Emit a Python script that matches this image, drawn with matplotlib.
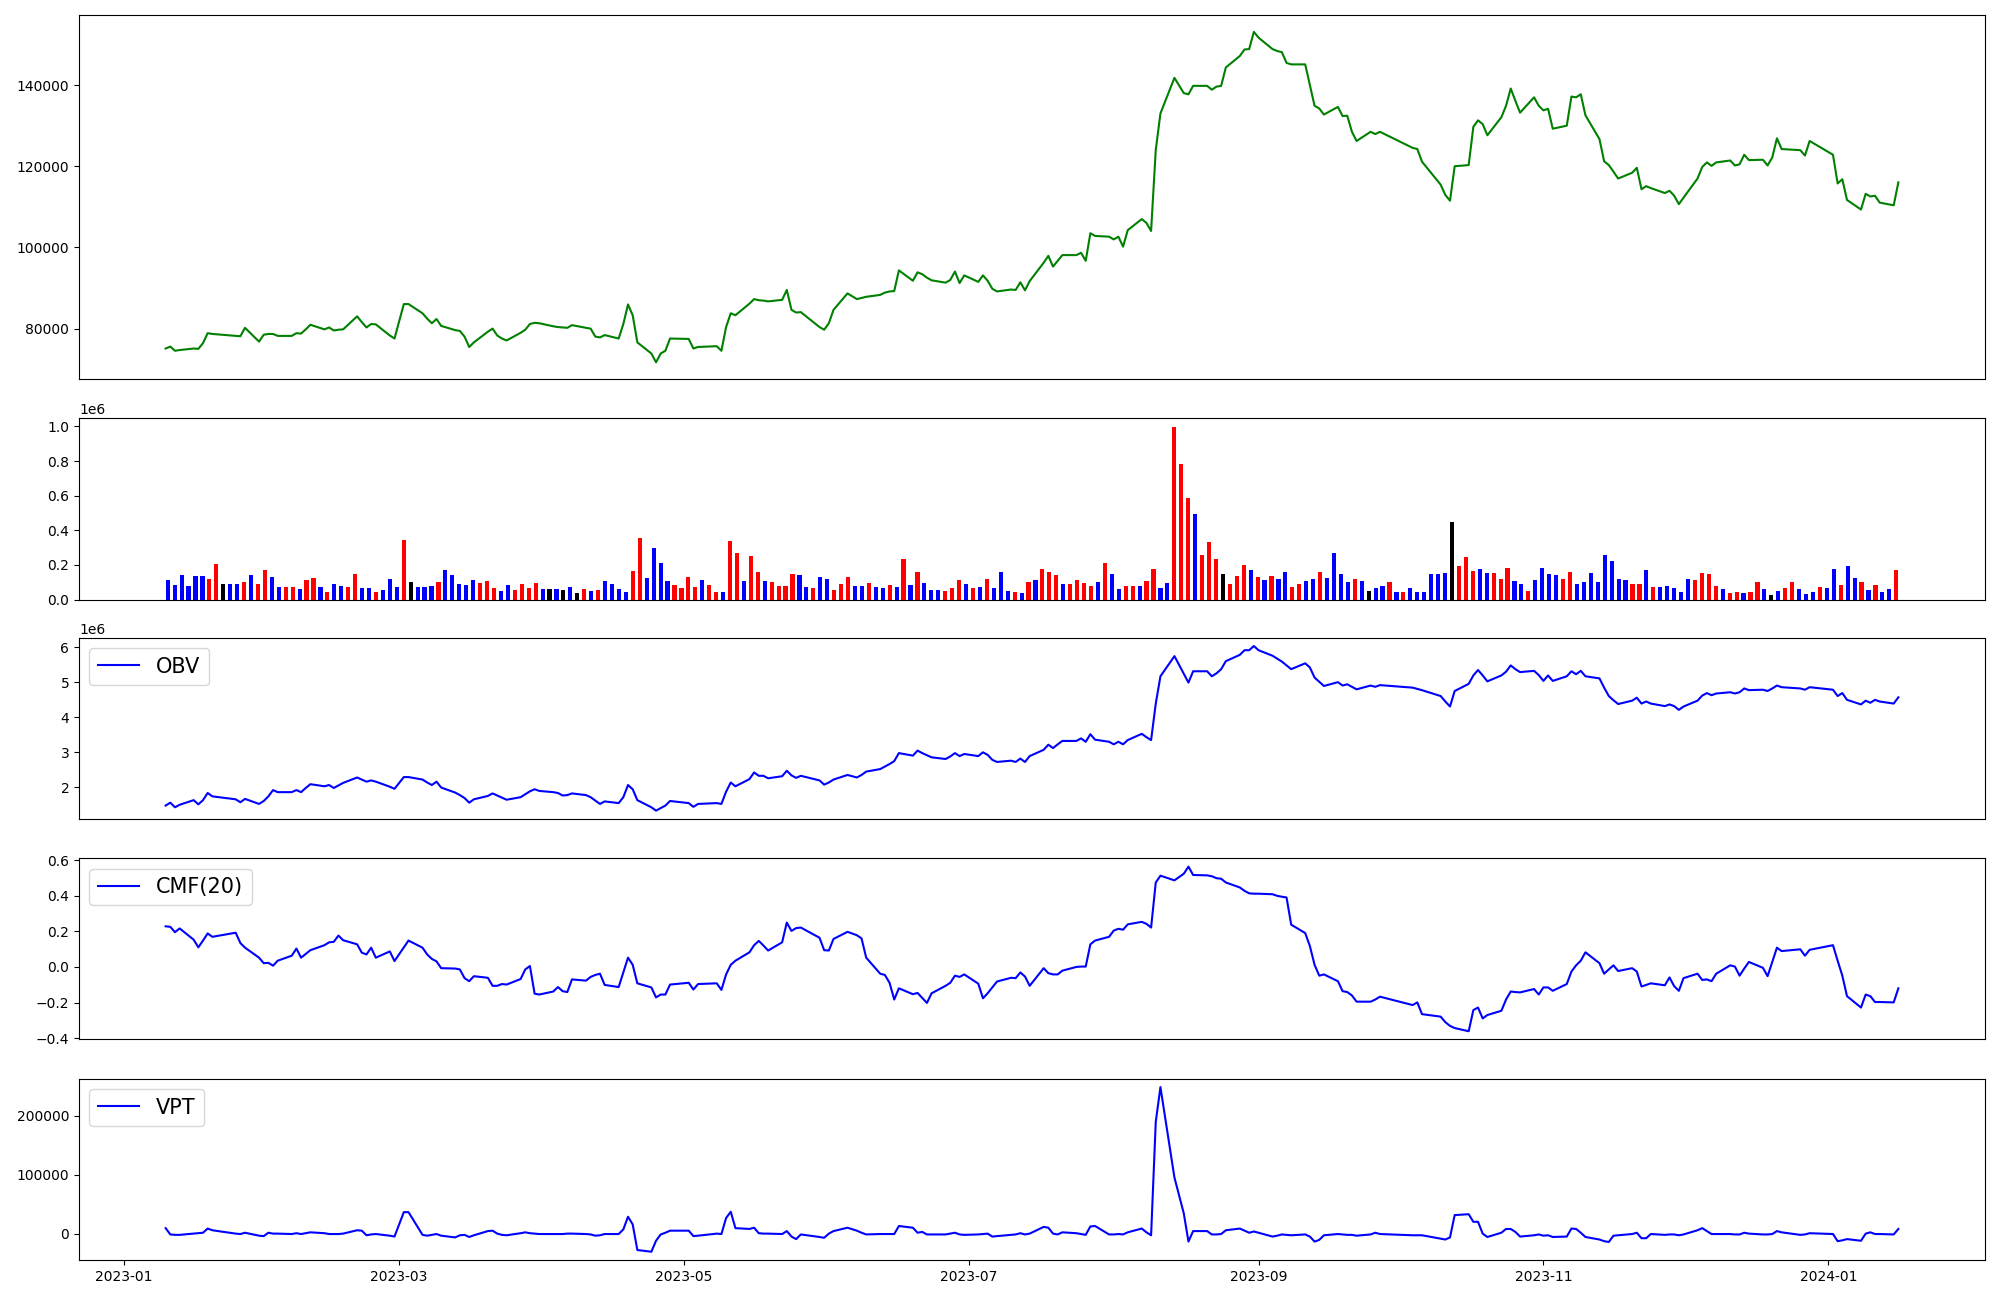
import pandas as pd
import matplotlib
matplotlib.use('Agg')
import matplotlib.pyplot as plt
from matplotlib.ticker import MultipleLocator

# KRX trading calendar for the period shown
krx_holidays = ['2023-01-23', '2023-01-24', '2023-03-01', '2023-05-01', '2023-05-05',
                '2023-05-29', '2023-06-06', '2023-08-15', '2023-09-28', '2023-09-29',
                '2023-10-02', '2023-10-03', '2023-10-09', '2023-12-25', '2023-12-29',
                '2024-01-01']
dates = pd.bdate_range('2023-01-10', '2024-01-16', freq='C', holidays=krx_holidays)

close = [
    75090, 75560, 74530, 74710, 75090, 75000, 76410, 78870, 78680, 78200, 78110, 80190, 76790, 78490,
    78680, 78680, 78200, 78200, 78870, 78770, 79810, 80940, 79810, 80280, 79530, 79720, 79810, 83020,
    81600, 80280, 81130, 81040, 78300, 77550,
    86040, 86040, 83780, 82450, 81320, 82360, 80660, 79620, 79430, 78020, 75470, 76600, 79240, 80000,
    78300, 77550, 77070, 78960, 79720, 81130, 81420, 81320,
    80570, 80380, 80280, 80190, 80850, 80190, 80000, 78020, 77830, 78400, 77550, 81130, 85950, 83300,
    76600, 73860, 71690, 73860, 74530, 77550,
    77450, 75090, 75470, 75660, 74530, 80380, 83780, 83300, 86140, 87270, 86990, 86900, 86710, 87080,
    89530, 84620, 83960, 84060, 80380, 79720,
    81320, 84620, 88680, 87270, 87550, 87840, 88310, 88870, 89160, 89250, 94350, 91800, 93880, 93400,
    92560, 91900, 91330, 91990, 94070, 91230, 93120,
    91520, 93120, 91800, 89820, 89160, 89630, 89530, 91420, 89440, 91710, 96240, 97940, 95290, 96710,
    98120, 98120, 98690, 96710, 103510, 102850, 102660,
    101990, 102660, 100200, 104260, 107000, 106050, 104070, 124080, 133050, 141830, 138050, 137770,
    139850, 139850, 138900, 139660, 139850, 144380, 147210, 148820, 148910, 153160,
    151740, 148910, 148440, 148160, 145510, 145140, 145140, 140040, 134940, 134280, 132770, 134660,
    132390, 132490, 128520, 126260, 128520, 127960, 128520,
    124560, 124270, 121160, 115490, 112950, 111530, 120030, 120310, 129750, 131350, 130410, 127670,
    132110, 134940, 139190, 136170, 133240, 137020, 134940,
    133810, 134190, 129280, 130030, 137210, 137020, 137770, 132580, 126730, 121250, 120310, 118700,
    117000, 118420, 119650, 114360, 115120, 114640, 113420, 113980, 112760, 110680,
    112280, 117000, 119840, 120970, 120120, 120970, 121440, 120210, 120500, 122860, 121540, 121630,
    120210, 122200, 126920, 124270, 123990, 122670, 126260,
    122860, 115780, 116820, 111720, 109360, 113230, 112570, 112760, 111060, 110400, 116060,
]

volume = [
    110650, 81900, 139400, 77500, 135000, 135000, 117300, 203600, 88500, 88500, 88500, 99600, 139400, 88500,
    170400, 128400, 70800, 70800, 70800, 59800, 110650, 123900, 70800, 42000, 88500, 77500, 70800, 146100,
    64200, 64200, 42000, 53100, 117300, 70800,
    343000, 99600, 70800, 70800, 77500, 99600, 170400, 139400, 88500, 81900, 110650, 95200, 106200, 64200,
    48700, 81900, 53100, 88500, 64200, 95200, 59800, 59800,
    59800, 53100, 70800, 35400, 59800, 48700, 53100, 106200, 88500, 59800, 42000, 163800, 354100, 123900,
    296500, 210200, 106200, 81900, 64200, 128400,
    70800, 110650, 81900, 42000, 42000, 336400, 267800, 106200, 250100, 157100, 106200, 99600, 77500, 77500,
    146100, 139400, 70800, 64200, 128400, 117300,
    53100, 88500, 128400, 77500, 77500, 95200, 70800, 64200, 81900, 70800, 232400, 81900, 157100, 95200,
    53100, 53100, 48700, 64200, 110650, 88500, 64200,
    70800, 117300, 64200, 157100, 48700, 42000, 35400, 99600, 110650, 174800, 157100, 139400, 88500, 88500,
    110650, 95200, 77500, 99600, 210200, 146100, 59800,
    77500, 77500, 77500, 106200, 174800, 64200, 95200, 996000, 783400, 586400, 491300, 256700, 332000,
    232400, 146100, 88500, 135000, 199200, 170400, 128400, 110650, 135000,
    117300, 157100, 70800, 88500, 106200, 117300, 157100, 123900, 267800, 146100, 99600, 117300, 106200,
    48700, 64200, 77500, 99600, 42000, 42000,
    64200, 42000, 42000, 146100, 146100, 152700, 447000, 192500, 245600, 163800, 174800, 152700, 152700,
    117300, 181500, 106200, 88500, 48700, 110650,
    181500, 146100, 139400, 117300, 157100, 88500, 99600, 152700, 99600, 256700, 221300, 117300, 110650,
    88500, 88500, 170400, 70800, 70800, 77500, 64200, 42000, 117300,
    110650, 152700, 146100, 77500, 59800, 35400, 42000, 35400, 42000, 99600, 59800, 24300, 48700, 64200,
    99600, 59800, 31000, 42000, 70800,
    64200, 174800, 81900, 192500, 123900, 99600, 53100, 81900, 42000, 59800, 170400,
]

# r = up day, b = down day, k = unchanged
bar_side = ('bbbbbbrrkbbrbr'
            'rbbrrbrrbrbbrrbbrbbb'
            'rkbbbrbbbbbrrrbbrrrrbk'
            'bkbkrbrbbbbrrbbbbrrr'
            'rbrrbrrbrrbrrrrbbrbb'
            'rrrbbrbbrbrbrbbbrrrbr'
            'brbbbrbrbrrrbrrrrbrbb'
            'rrbrrbbrrrbrrrkrrrbrbr'
            'bbrrbbrbbbbrbkbbrbr'
            'bbbbbbkrrrbbrrrbbrb'
            'bbbrrbbbbbbbbrrbrbbbbb'
            'rrrrbrrbrrbkbrrbbbr'
            'bbrbbrbrbbr')

obv = [
    1.482, 1.564, 1.433, 1.504, 1.636, 1.516, 1.636, 1.840, 1.744, 1.660, 1.576, 1.672, 1.528, 1.612,
    1.744, 1.923, 1.864, 1.864, 1.923, 1.864, 1.983, 2.091, 2.031, 2.067, 1.983, 2.055, 2.127, 2.282,
    2.223, 2.163, 2.199, 2.163, 2.019, 1.959,
    2.294, 2.294, 2.223, 2.139, 2.067, 2.163, 1.995, 1.852, 1.780, 1.696, 1.564, 1.660, 1.756, 1.828,
    1.768, 1.708, 1.648, 1.720, 1.804, 1.888, 1.947, 1.899,
    1.864, 1.840, 1.768, 1.780, 1.828, 1.780, 1.720, 1.624, 1.528, 1.600, 1.552, 1.720, 2.067, 1.947,
    1.636, 1.433, 1.337, 1.409, 1.481, 1.612,
    1.552, 1.445, 1.528, 1.552, 1.528, 1.876, 2.139, 2.031, 2.235, 2.426, 2.330, 2.330, 2.259, 2.318,
    2.474, 2.342, 2.271, 2.330, 2.199, 2.079,
    2.139, 2.223, 2.354, 2.282, 2.354, 2.450, 2.522, 2.594, 2.665, 2.749, 2.977, 2.905, 3.049, 2.977,
    2.917, 2.857, 2.809, 2.881, 2.977, 2.892, 2.952,
    2.892, 3.000, 2.928, 2.785, 2.725, 2.761, 2.725, 2.821, 2.725, 2.892, 3.071, 3.217, 3.120, 3.227,
    3.324, 3.324, 3.396, 3.300, 3.515, 3.360, 3.300,
    3.228, 3.300, 3.228, 3.348, 3.527, 3.431, 3.348, 4.389, 5.167, 5.742, 5.239, 4.987, 5.310, 5.310,
    5.167, 5.251, 5.370, 5.598, 5.778, 5.910, 5.910, 6.030,
    5.910, 5.753, 5.669, 5.586, 5.478, 5.370, 5.537, 5.418, 5.131, 5.011, 4.891, 4.999, 4.903, 4.939,
    4.867, 4.795, 4.903, 4.867, 4.915,
    4.843, 4.807, 4.771, 4.604, 4.448, 4.305, 4.747, 4.951, 5.191, 5.346, 5.191, 5.023, 5.191, 5.298,
    5.477, 5.370, 5.286, 5.322, 5.202,
    5.035, 5.191, 5.035, 5.167, 5.310, 5.226, 5.322, 5.167, 5.107, 4.844, 4.604, 4.484, 4.376, 4.472,
    4.556, 4.389, 4.448, 4.389, 4.317, 4.365, 4.317, 4.209,
    4.305, 4.472, 4.616, 4.688, 4.628, 4.676, 4.712, 4.676, 4.712, 4.820, 4.772, 4.784, 4.748, 4.820,
    4.903, 4.856, 4.820, 4.784, 4.856,
    4.784, 4.604, 4.688, 4.496, 4.365, 4.472, 4.412, 4.496, 4.448, 4.389, 4.568,
]  # millions

cmf = [
    0.228, 0.225, 0.195, 0.216, 0.153, 0.110, 0.148, 0.188, 0.169, 0.192, 0.134, 0.108, 0.052, 0.021,
    0.023, 0.007, 0.035, 0.063, 0.103, 0.052, 0.073, 0.094, 0.122, 0.138, 0.141, 0.176, 0.150, 0.127,
    0.080, 0.070, 0.108, 0.052, 0.087, 0.033,
    0.110, 0.148, 0.108, 0.070, 0.045, 0.031, -0.007, -0.009, -0.014, -0.063, -0.080, -0.052, -0.061,
    -0.106, -0.106, -0.096, -0.099, -0.068, -0.014, 0.005, -0.150, -0.155,
    -0.138, -0.113, -0.136, -0.141, -0.070, -0.077, -0.056, -0.045, -0.038, -0.101, -0.113, -0.031,
    0.052, 0.012, -0.092, -0.115, -0.171, -0.155, -0.155, -0.099,
    -0.089, -0.127, -0.096, -0.092, -0.129, -0.042, 0.012, 0.035, 0.082, 0.122, 0.146, 0.120, 0.092,
    0.138, 0.249, 0.202, 0.218, 0.221, 0.164, 0.094,
    0.092, 0.157, 0.197, 0.178, 0.160, 0.052, -0.038, -0.045, -0.089, -0.183, -0.120, -0.153, -0.146,
    -0.174, -0.202, -0.148, -0.106, -0.089, -0.049, -0.056, -0.042,
    -0.094, -0.176, -0.148, -0.115, -0.082, -0.061, -0.063, -0.031, -0.054, -0.106, -0.007, -0.035,
    -0.042, -0.042, -0.021, 0.000, 0.002, 0.002, 0.127, 0.148, 0.169,
    0.204, 0.214, 0.209, 0.239, 0.253, 0.242, 0.221, 0.474, 0.512, 0.486, 0.523, 0.563, 0.516, 0.514,
    0.509, 0.498, 0.495, 0.474, 0.446, 0.427, 0.413, 0.411,
    0.411, 0.408, 0.399, 0.394, 0.390, 0.237, 0.190, 0.117, 0.012, -0.049, -0.042, -0.080, -0.136,
    -0.141, -0.160, -0.195, -0.195, -0.183, -0.167,
    -0.214, -0.199, -0.265, -0.279, -0.310, -0.331, -0.343, -0.361, -0.242, -0.228, -0.289, -0.270,
    -0.246, -0.183, -0.138, -0.141, -0.143, -0.124, -0.155,
    -0.115, -0.115, -0.134, -0.096, -0.026, 0.009, 0.035, 0.082, 0.021, -0.038, -0.014, 0.009, -0.023,
    -0.007, -0.026, -0.110, -0.101, -0.092, -0.103, -0.059, -0.108, -0.134,
    -0.063, -0.038, -0.073, -0.070, -0.080, -0.038, 0.009, 0.002, -0.049, -0.009, 0.028, -0.005,
    -0.052, 0.028, 0.108, 0.089, 0.099, 0.063, 0.096,
    0.122, 0.035, -0.049, -0.164, -0.228, -0.155, -0.164, -0.197, -0.197, -0.199, -0.120,
]

vpt = [
    9700, -1000, -1700, -1700, 400, 1100, 1900, 9000, 6100, 400, -300, 1900, -3100, -3800,
    1900, 400, 400, -300, 1100, -300, 1100, 2600, 1100, -300, -300, -300, 400, 6100, 5400, -2400,
    -1000, -300, -3100, -4600,
    36800, 36800, -1700, -3100, -1700, -300, -3100, -6000, -2400, -1700, -5300, -2400, 4700, 5400,
    400, -1700, -2400, 1100, 2600, 1100, 400, -300,
    -300, -300, -300, 400, 400, -300, -1000, -3100, -2400, -300, -300, 7600, 29000, 16100, -27400,
    -30300, -11700, -1000, 1900, 5400,
    5400, -3800, -3100, 400, -300, 26800, 37500, 9700, 8300, 10400, 1100, 400, 400, -300, 4700,
    -4600, -8900, -1000, -5300, -6700,
    400, 4700, 10400, 5400, 1900, -1000, -300, -300, -300, -300, 13300, 10400, 1900, 3300, -1000,
    -1000, -1000, 400, 1900, -1000, -1700,
    -1000, -300, 400, -4600, -3800, -1700, -1000, 1100, -1000, 400, 11800, 10400, 400, -1000, 2600,
    1100, -300, -1700, 12600, 13300, -1000,
    -1000, -300, -1000, 2600, 9000, 2600, -2400, 190100, 248800, 95400, 34700, -13100, 4700, 4700,
    -1000, -1000, -300, 6100, 9000, 5400, 1900, 4000,
    1900, -4600, -3100, -1000, -1700, -2400, -1000, -4600, -13100, -10300, -2400, -300, -1000, -1700,
    -1700, -3100, -1000, 1900, -300,
    -2400, -2400, -2400, -8100, -9600, -6000, 31800, 33300, 20400, 20400, 400, -5300, 1900, 8300,
    8300, 3300, -4600, -2400, -1000,
    -3100, -2400, -5300, -4600, 9000, 8300, 1900, -5300, -9600, -12400, -13800, -3100, -2400, -300,
    1900, -7400, -7400, -300, -1700, -1000, -1000, -2400,
    -1000, 6100, 9700, 4700, -300, -300, -300, -1000, -1000, 1900, 400, -1000, -1000, -300, 4700,
    2600, -1700, -1000, 1100,
    -300, -12400, -11000, -8900, -11700, 400, 2600, -300, -300, -1000, 8300,
]

side_colors = {'r': 'red', 'b': 'blue', 'k': 'black'}
bar_colors = [side_colors[s] for s in bar_side]

fig = plt.figure(figsize=(20, 13), dpi=100)
left, width = 0.0395, 0.953
ax_price = fig.add_axes([left, 0.7086, width, 0.2796])
ax_vol = fig.add_axes([left, 0.5388, width, 0.1393])
ax_obv = fig.add_axes([left, 0.3701, width, 0.1393])
ax_cmf = fig.add_axes([left, 0.2004, width, 0.1393])
ax_vpt = fig.add_axes([left, 0.0308, width, 0.1393])

ax_price.plot(dates, close, color='green')
ax_price.yaxis.set_major_locator(MultipleLocator(20000))
ax_price.set_xticks([])

# volume is drawn on a plain trading-day index
ax_vol.bar(range(len(volume)), volume, color=bar_colors, width=0.6)
ax_vol.set_xticks([])

ax_obv.plot(dates, [v * 1e6 for v in obv], color='blue', label='OBV')
ax_obv.legend(loc='upper left', fontsize=15)
ax_obv.set_xticks([])

ax_cmf.plot(dates, cmf, color='blue', label='CMF(20)')
ax_cmf.legend(loc='upper left', fontsize=15)
ax_cmf.set_xticks([])

ax_vpt.plot(dates, vpt, color='blue', label='VPT')
ax_vpt.legend(loc='upper left', fontsize=15)

plt.savefig('out.png', dpi=100)
plt.close()
